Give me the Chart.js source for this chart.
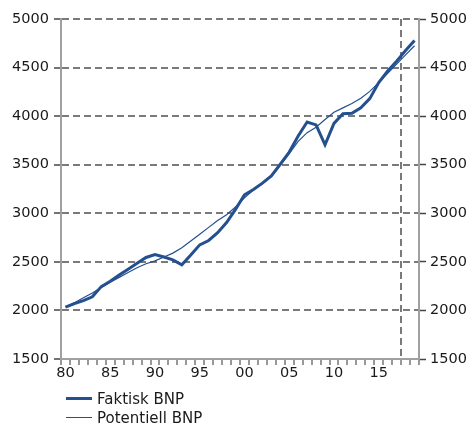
<!DOCTYPE html>
<html><head><meta charset="utf-8">
<script src="https://cdn.jsdelivr.net/npm/chart.js@4/dist/chart.umd.min.js"></script>
<style>
html,body{margin:0;padding:0;background:#fff;}
#wrap{position:relative;width:471px;height:423px;overflow:hidden;}
canvas{display:block;}
#legend{position:absolute;left:66px;top:389px;font-family:"DejaVu Sans",Verdana,sans-serif;font-size:15px;color:#1a1a1a;}
.item{display:flex;align-items:center;height:19px;white-space:nowrap;}
.sw{width:26px;margin-right:5px;}
</style></head><body>
<div id="wrap"><canvas id="c" width="471" height="423"></canvas><div id="legend"></div></div>
<script>
const years = ['1980','1981','1982','1983','1984','1985','1986','1987','1988','1989',
  '1990','1991','1992','1993','1994','1995','1996','1997','1998','1999',
  '2000','2001','2002','2003','2004','2005','2006','2007','2008','2009',
  '2010','2011','2012','2013','2014','2015','2016','2017','2018','2019'];
const faktisk = [2035,2070,2100,2140,2245,2300,2365,2425,2485,2545,
  2575,2550,2520,2470,2570,2675,2720,2800,2905,3040,
  3190,3245,3310,3385,3505,3630,3795,3940,3910,3705,
  3925,4025,4030,4085,4180,4345,4465,4565,4675,4778];
const potentiell = [2035,2080,2130,2180,2235,2290,2340,2390,2440,2480,
  2510,2550,2590,2645,2715,2785,2855,2925,2985,3065,
  3160,3240,3305,3380,3495,3615,3740,3830,3885,3965,
  4040,4085,4130,4185,4255,4345,4440,4535,4630,4725];
const seriesNames = ['Faktisk BNP','Potentiell BNP'];
const yMin = 1500, yMax = 5000, yStep = 500;
const forecastStartIndex = 38; // boundary before 2018

const blue = '#24508f';
const gridGray = '#7a7a7a';
const axisGray = '#a0a0a0';
const font = {family:'"DejaVu Sans", Verdana, sans-serif', size:14.5};
const plainNum = v => String(v);

new Chart(document.getElementById('c'), {
  type: 'line',
  data: {
    labels: years,
    datasets: [
      {label: seriesNames[0], data: faktisk, borderColor: blue, borderWidth: 3, pointRadius: 0, tension: 0, yAxisID: 'y'},
      {label: seriesNames[1], data: potentiell, borderColor: blue, borderWidth: 1.2, pointRadius: 0, tension: 0, yAxisID: 'y'}
    ]
  },
  options: {
    responsive: false,
    animation: false,
    devicePixelRatio: 1,
    layout: {padding: {top: 19, left: 0, right: 0, bottom: 0}},
    plugins: {legend: {display: false}, tooltip: {enabled: false}},
    scales: {
      x: {
        type: 'category',
        offset: true,
        grid: {
          offset: true,
          drawOnChartArea: true,
          color: c => c.index === forecastStartIndex ? gridGray : 'rgba(0,0,0,0)',
          lineWidth: c => c.index === forecastStartIndex ? 2 : 0,
          tickColor: '#333', tickWidth: 1, tickLength: 6, tickBorderDash: []
        },
        border: {color: axisGray, width: 2, dash: [7,4]},
        ticks: {
          autoSkip: false, maxRotation: 0, minRotation: 0, padding: 0,
          font: font, color: '#1a1a1a',
          callback: function(v, i) { const y = +years[i]; return y % 5 === 0 ? String(y).slice(2) : ''; }
        },
        afterFit: s => { s.height = 64; }
      },
      y: {
        position: 'left', min: yMin, max: yMax,
        grid: {color: gridGray, lineWidth: 2, tickColor: '#444', tickWidth: 1.5, tickLength: 7, tickBorderDash: []},
        border: {color: axisGray, width: 2, dash: [7,4]},
        ticks: {stepSize: yStep, font: font, color: '#1a1a1a', padding: 5, callback: plainNum},
        afterFit: s => { s.width = 61; }
      },
      y2: {
        position: 'right', min: yMin, max: yMax,
        grid: {drawOnChartArea: false, tickColor: '#444', tickWidth: 1.5, tickLength: 7, tickBorderDash: []},
        border: {color: axisGray, width: 2},
        ticks: {stepSize: yStep, font: font, color: '#1a1a1a', padding: 4, callback: plainNum},
        afterFit: s => { s.width = 52; }
      }
    }
  }
});

const leg = document.getElementById('legend');
[[seriesNames[0],3],[seriesNames[1],1.2]].forEach(([name,w]) => {
  const it = document.createElement('div'); it.className = 'item';
  const sw = document.createElement('div'); sw.className = 'sw';
  sw.style.height = w + 'px'; sw.style.background = blue;
  const t = document.createElement('span'); t.textContent = name;
  it.appendChild(sw); it.appendChild(t); leg.appendChild(it);
});
</script>
</body></html>
